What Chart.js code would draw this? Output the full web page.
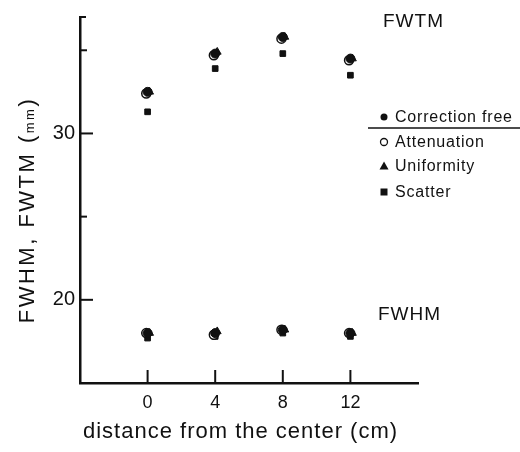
<!DOCTYPE html>
<html>
<head>
<meta charset="utf-8">
<script src="https://cdn.jsdelivr.net/npm/chart.js@4.4.0/dist/chart.umd.min.js"></script>
<style>
  html, body { margin: 0; padding: 0; background: #fff; }
  #chart { display: block; }
</style>
</head>
<body>
<canvas id="chart" width="520" height="452"></canvas>
<script>
// distance from the center (cm)
const distances = [0, 4, 8, 12];

// FWTM (mm)
const fwtmFree    = [32.5, 34.8, 35.8, 34.5];
const fwtmAtten   = [32.4, 34.7, 35.7, 34.4];
const fwtmUnif    = [32.5, 34.9, 35.8, 34.5];
const fwtmScatter = [31.3, 33.9, 34.8, 33.5];

// FWHM (mm)
const fwhmFree    = [18.0, 18.0, 18.2, 18.0];
const fwhmAtten   = [18.0, 17.9, 18.2, 18.0];
const fwhmUnif    = [18.0, 18.1, 18.2, 18.0];
const fwhmScatter = [17.7, 17.8, 18.0, 17.8];

const yTickValues = [20, 25, 30, 35];
const yLabelled = [20, 30];

const ink = '#111';
const FONT = "'Liberation Sans Narrow', 'Liberation Sans', Arial, sans-serif";
const SANS = "'Liberation Sans', Arial, sans-serif";

function pts(values, shift) {
  return values.map((v, i) => ({ x: distances[i] + shift, y: v }));
}

function series(label, fwtm, fwhm, style, filled, shift) {
  return {
    label: label,
    data: pts(fwtm, shift).concat(pts(fwhm, shift)),
    showLine: false,
    pointStyle: style,
    pointRadius: style === 'rect' ? 4 : 4.5,
    pointBorderWidth: filled ? 1 : 1.5,
    pointBorderColor: ink,
    pointBackgroundColor: filled ? ink : '#fff'
  };
}

// inward tick marks, axis titles, curve labels and the legend box
const decorations = {
  id: 'decorations',
  afterDraw(chart) {
    const ctx = chart.ctx;
    const xs = chart.scales.x, ys = chart.scales.y;
    const area = chart.chartArea;
    ctx.save();
    ctx.strokeStyle = ink;
    ctx.fillStyle = ink;
    ctx.lineWidth = 2;

    // y ticks point into the plot
    yTickValues.concat([ys.max]).forEach(v => {
      const y = ys.getPixelForValue(v);
      const len = yLabelled.includes(v) ? 13 : (v === ys.max ? 6 : 7);
      ctx.beginPath();
      ctx.moveTo(area.left, y);
      ctx.lineTo(area.left + len, y);
      ctx.stroke();
    });
    // x ticks point up
    distances.forEach(d => {
      const x = xs.getPixelForValue(d);
      ctx.beginPath();
      ctx.moveTo(x, area.bottom);
      ctx.lineTo(x, area.bottom - 13);
      ctx.stroke();
    });

    // x title
    ctx.letterSpacing = '1px';
    ctx.textBaseline = 'alphabetic';
    ctx.textAlign = 'left';
    ctx.font = '22px ' + SANS;
    ctx.fillText('distance from the center (cm)', 83, 438);

    // y title, rotated, with small "mm"
    ctx.save();
    ctx.translate(34, 210);
    ctx.rotate(-Math.PI / 2);
    ctx.letterSpacing = '2.5px';
    const big = '22px ' + SANS, small = '13px ' + SANS;
    const parts = [['FWHM, FWTM (', big], ['mm', small], [')', big]];
    let total = 0;
    parts.forEach(p => { ctx.font = p[1]; total += ctx.measureText(p[0]).width; });
    let cx = -total / 2;
    parts.forEach(p => {
      ctx.font = p[1];
      ctx.fillText(p[0], cx, 0);
      cx += ctx.measureText(p[0]).width;
    });
    ctx.restore();

    // curve labels
    ctx.letterSpacing = '1px';
    ctx.font = '19px ' + SANS;
    ctx.fillText('FWTM', 383, 27);
    ctx.fillText('FWHM', 378, 320);

    // legend
    ctx.font = '16px ' + SANS;
    ctx.letterSpacing = '0.8px';
    const rows = [
      ['Correction free', 'circle', true, 122],
      ['Attenuation', 'circle', false, 147],
      ['Uniformity', 'triangle', true, 171],
      ['Scatter', 'rect', true, 197]
    ];
    rows.forEach(r => {
      const mx = 384, my = r[3] - 5;
      ctx.beginPath();
      if (r[1] === 'circle') {
        ctx.arc(mx, my, 3.5, 0, Math.PI * 2);
      } else if (r[1] === 'triangle') {
        ctx.moveTo(mx, my - 4.5);
        ctx.lineTo(mx + 4.5, my + 3.5);
        ctx.lineTo(mx - 4.5, my + 3.5);
        ctx.closePath();
      } else {
        ctx.rect(mx - 3.5, my - 3.5, 7, 7);
      }
      ctx.lineWidth = 1.3;
      if (r[2]) ctx.fill(); else ctx.stroke();
      ctx.fillText(r[0], 395, r[3]);
    });
    ctx.lineWidth = 1.5;
    ctx.beginPath();
    ctx.moveTo(368, 128);
    ctx.lineTo(520, 128);
    ctx.stroke();

    ctx.restore();
  }
};

// the first dataset is painted last, so the filled circles sit on top
new Chart(document.getElementById('chart'), {
  type: 'scatter',
  data: {
    datasets: [
      series('Correction free', fwtmFree, fwhmFree, 'circle', true, 0),
      series('Uniformity', fwtmUnif, fwhmUnif, 'triangle', true, 0.12),
      series('Attenuation', fwtmAtten, fwhmAtten, 'circle', false, -0.08),
      series('Scatter', fwtmScatter, fwhmScatter, 'rect', true, 0)
    ]
  },
  options: {
    responsive: false,
    animation: false,
    events: [],
    layout: { padding: { top: 13, right: 102, left: 0, bottom: 0 } },
    plugins: {
      legend: { display: false },
      tooltip: { enabled: false }
    },
    scales: {
      x: {
        type: 'linear',
        min: -4,
        max: 16,
        afterFit: s => { s.height = 69; },
        afterBuildTicks: s => { s.ticks = distances.map(v => ({ value: v })); },
        grid: { display: false, drawTicks: false },
        border: { display: true, color: ink, width: 2.5 },
        ticks: {
          color: ink,
          padding: 9,
          font: { family: FONT, size: 18 },
          callback: v => String(v)
        }
      },
      y: {
        type: 'linear',
        min: 15,
        max: 37,
        afterFit: s => { s.width = 80; },
        afterBuildTicks: s => { s.ticks = yTickValues.map(v => ({ value: v })); },
        grid: { display: false, drawTicks: false },
        border: { display: true, color: ink, width: 2.5 },
        ticks: {
          color: ink,
          padding: 5,
          font: { family: FONT, size: 20 },
          callback: v => yLabelled.includes(v) ? String(v) : ''
        }
      }
    }
  },
  plugins: [decorations]
});
</script>
</body>
</html>
